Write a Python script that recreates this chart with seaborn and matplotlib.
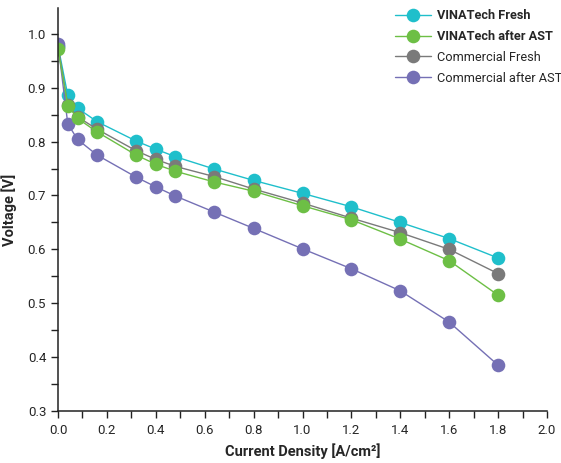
import matplotlib
matplotlib.use("Agg")
import matplotlib.pyplot as plt
from matplotlib.ticker import MultipleLocator
import seaborn as sns
import pandas as pd

current = [0.0, 0.04, 0.08, 0.16, 0.32, 0.40, 0.48, 0.64, 0.80, 1.0, 1.2, 1.4, 1.6, 1.8]
vinatech_fresh = [0.978, 0.886, 0.862, 0.837, 0.801, 0.786, 0.772, 0.749, 0.728, 0.704, 0.679, 0.650, 0.620, 0.584]
vinatech_ast = [0.972, 0.867, 0.843, 0.818, 0.775, 0.758, 0.745, 0.725, 0.708, 0.681, 0.655, 0.619, 0.579, 0.515]
commercial_fresh = [0.976, 0.868, 0.846, 0.823, 0.783, 0.767, 0.754, 0.735, 0.712, 0.686, 0.658, 0.631, 0.600, 0.555]
commercial_ast = [0.981, 0.833, 0.804, 0.775, 0.734, 0.716, 0.699, 0.669, 0.639, 0.601, 0.564, 0.523, 0.465, 0.385]

labels = ["VINATech Fresh", "VINATech after AST", "Commercial Fresh", "Commercial after AST"]
series = [vinatech_fresh, vinatech_ast, commercial_fresh, commercial_ast]
colors = {"VINATech Fresh": "#1fbfcb", "VINATech after AST": "#6dbf45",
          "Commercial Fresh": "#7a7a7a", "Commercial after AST": "#7570b5"}

rows = []
for lab, vals in zip(labels, series):
    for x, y in zip(current, vals):
        rows.append({"Current": x, "Voltage": y, "Sample": lab})
df = pd.DataFrame(rows)

sns.set_style("ticks")
plt.rcParams['font.family'] = ['Roboto', 'DejaVu Sans']

fig = plt.figure(figsize=(5.61, 4.63), dpi=100)
ax = fig.add_axes([58/561, 52/463, (547-58)/561, (455-52)/463])

draw_order = ["VINATech Fresh", "Commercial Fresh", "Commercial after AST", "VINATech after AST"]
for lab in draw_order:
    sub = df[df["Sample"] == lab]
    sns.lineplot(data=sub, x="Current", y="Voltage", color=colors[lab], marker="o",
                 markersize=9.8, markeredgewidth=0, linewidth=1.0, ax=ax, label=lab,
                 sort=False)

ax.set_xlim(0, 2.0)
ax.set_ylim(0.3, 1.048)
ax.xaxis.set_major_locator(MultipleLocator(0.2))
ax.xaxis.set_minor_locator(MultipleLocator(0.1))
ax.yaxis.set_major_locator(MultipleLocator(0.1))
ax.yaxis.set_minor_locator(MultipleLocator(0.05))
ax.set_yticks([0.3, 0.4, 0.5, 0.6, 0.7, 0.8, 0.9, 1.0])
ax.tick_params(which="both", direction="out", length=5, width=1, labelsize=9.5, color="#222222")
ax.tick_params(axis="x", pad=4)
sns.despine(ax=ax)
for s in ["left", "bottom"]:
    ax.spines[s].set_linewidth(1.1)
    ax.spines[s].set_color("#222222")

ax.set_xlabel("Current Density [A/cm²]", fontsize=10.5, fontweight="bold", labelpad=5)
ax.set_ylabel("Voltage [V]", fontsize=10.5, fontweight="bold", labelpad=8)

handles, hlabels = ax.get_legend_handles_labels()
hmap = dict(zip(hlabels, handles))
ax.get_legend().remove()
leg = fig.legend([hmap[l] for l in labels], labels, loc="upper left",
                 bbox_to_anchor=(390/561, 1 - 4/463), frameon=False, fontsize=9.2,
                 handlelength=2.8, handletextpad=0.5, labelspacing=0.62, borderaxespad=0)
for t in leg.get_texts()[:2]:
    t.set_fontweight("bold")

fig.savefig("out.png", dpi=100)
